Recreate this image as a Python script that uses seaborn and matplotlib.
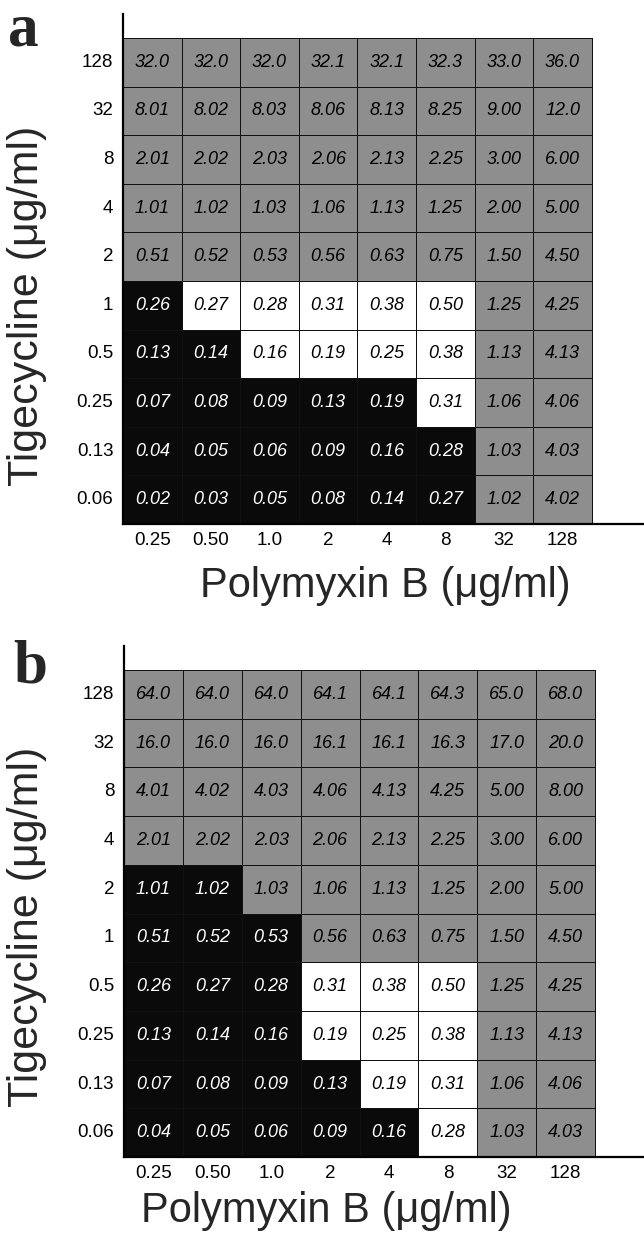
import numpy as np
import pandas as pd
import matplotlib
matplotlib.use("Agg")
import matplotlib.pyplot as plt
from matplotlib.colors import ListedColormap
import seaborn as sns

# ---------------- data ----------------
tige_labels = ["128", "32", "8", "4", "2", "1", "0.5", "0.25", "0.13", "0.06"]
poly_labels = ["0.25", "0.50", "1.0", "2", "4", "8", "32", "128"]

values_a = [
    [32.0, 32.0, 32.0, 32.1, 32.1, 32.3, 33.0, 36.0],
    [8.01, 8.02, 8.03, 8.06, 8.13, 8.25, 9.00, 12.0],
    [2.01, 2.02, 2.03, 2.06, 2.13, 2.25, 3.00, 6.00],
    [1.01, 1.02, 1.03, 1.06, 1.13, 1.25, 2.00, 5.00],
    [0.51, 0.52, 0.53, 0.56, 0.63, 0.75, 1.50, 4.50],
    [0.26, 0.27, 0.28, 0.31, 0.38, 0.50, 1.25, 4.25],
    [0.13, 0.14, 0.16, 0.19, 0.25, 0.38, 1.13, 4.13],
    [0.07, 0.08, 0.09, 0.13, 0.19, 0.31, 1.06, 4.06],
    [0.04, 0.05, 0.06, 0.09, 0.16, 0.28, 1.03, 4.03],
    [0.02, 0.03, 0.05, 0.08, 0.14, 0.27, 1.02, 4.02],
]
# G = gray, B = black, W = white
classes_a = [
    "GGGGGGGG",
    "GGGGGGGG",
    "GGGGGGGG",
    "GGGGGGGG",
    "GGGGGGGG",
    "BWWWWWGG",
    "BBWWWWGG",
    "BBBBBWGG",
    "BBBBBBGG",
    "BBBBBBGG",
]

values_b = [
    [64.0, 64.0, 64.0, 64.1, 64.1, 64.3, 65.0, 68.0],
    [16.0, 16.0, 16.0, 16.1, 16.1, 16.3, 17.0, 20.0],
    [4.01, 4.02, 4.03, 4.06, 4.13, 4.25, 5.00, 8.00],
    [2.01, 2.02, 2.03, 2.06, 2.13, 2.25, 3.00, 6.00],
    [1.01, 1.02, 1.03, 1.06, 1.13, 1.25, 2.00, 5.00],
    [0.51, 0.52, 0.53, 0.56, 0.63, 0.75, 1.50, 4.50],
    [0.26, 0.27, 0.28, 0.31, 0.38, 0.50, 1.25, 4.25],
    [0.13, 0.14, 0.16, 0.19, 0.25, 0.38, 1.13, 4.13],
    [0.07, 0.08, 0.09, 0.13, 0.19, 0.31, 1.06, 4.06],
    [0.04, 0.05, 0.06, 0.09, 0.16, 0.28, 1.03, 4.03],
]
classes_b = [
    "GGGGGGGG",
    "GGGGGGGG",
    "GGGGGGGG",
    "GGGGGGGG",
    "BBGGGGGG",
    "BBBGGGGG",
    "BBBWWWGG",
    "BBBWWWGG",
    "BBBBWWGG",
    "BBBBBWGG",
]

# ---------------- style ----------------
sns.set_style("white")
plt.rcParams["font.family"] = ["Liberation Sans", "DejaVu Sans"]

CLASS_CODE = {"W": 0, "G": 1, "B": 2}
cmap = ListedColormap(["#ffffff", "#8e8e8e", "#0a0a0a"])
TEXT_COLOR = {"W": "black", "G": "black", "B": "white"}


def fmt(v):
    return f"{v:.1f}" if v >= 10 else f"{v:.2f}"


def draw_panel(ax, values, classes, xmax, ytop):
    codes = pd.DataFrame([[CLASS_CODE[c] for c in row] for row in classes],
                         index=tige_labels, columns=poly_labels)
    annot = np.array([[fmt(v) for v in row] for row in values], dtype=object)
    sns.heatmap(codes, ax=ax, cmap=cmap, vmin=-0.5, vmax=2.5, cbar=False,
                annot=annot, fmt="", linewidths=0.6, linecolor="#111111",
                annot_kws={"fontsize": 13, "fontstyle": "italic"})
    flat_classes = [c for row in classes for c in row]
    for t, c in zip(ax.texts, flat_classes):
        t.set_color(TEXT_COLOR[c])
    ax.set_xlim(0, xmax)
    ax.set_ylim(len(tige_labels), ytop)
    for side in ["top", "right"]:
        ax.spines[side].set_visible(False)
    for side in ["left", "bottom"]:
        ax.spines[side].set_visible(True)
        ax.spines[side].set_linewidth(1.6)
        ax.spines[side].set_color("black")
    ax.set_xlabel("")
    ax.set_ylabel("")
    ax.tick_params(axis="both", length=0, labelsize=13.5, colors="black")
    ax.tick_params(axis="y", pad=7, rotation=0)
    ax.tick_params(axis="x", pad=6, rotation=0)


fig = plt.figure(figsize=(6.44, 12.33), dpi=100)
ax_a = fig.add_axes([0.1910, 0.5750, 0.8090, 0.4136])
ax_b = fig.add_axes([0.1925, 0.0616, 0.8075, 0.4144])

draw_panel(ax_a, values_a, classes_a, 8.89, -0.494)
draw_panel(ax_b, values_b, classes_b, 8.83, -0.493)

# axis titles
fig.text(27 / 644, 1 - 306 / 1233, "Tigecycline (\u03bcg/ml)", rotation=90,
         ha="center", va="center", fontsize=31)
fig.text(27 / 644, 1 - 927 / 1233, "Tigecycline (\u03bcg/ml)", rotation=90,
         ha="center", va="center", fontsize=31)
fig.text(385 / 644, 1 - 597 / 1233, "Polymyxin B (\u03bcg/ml)",
         ha="center", va="baseline", fontsize=30)
fig.text(326 / 644, 1 - 1222 / 1233, "Polymyxin B (\u03bcg/ml)",
         ha="center", va="baseline", fontsize=30)

# panel letters
fig.text(23 / 644, 1 - 45 / 1233, "a", ha="center", va="baseline",
         fontsize=44, fontweight="bold", family=["Liberation Serif", "DejaVu Serif"])
fig.text(30 / 644, 1 - 683 / 1233, "b", ha="center", va="baseline",
         fontsize=44, fontweight="bold", family=["Liberation Serif", "DejaVu Serif"])

fig.savefig("out.png", dpi=100)
